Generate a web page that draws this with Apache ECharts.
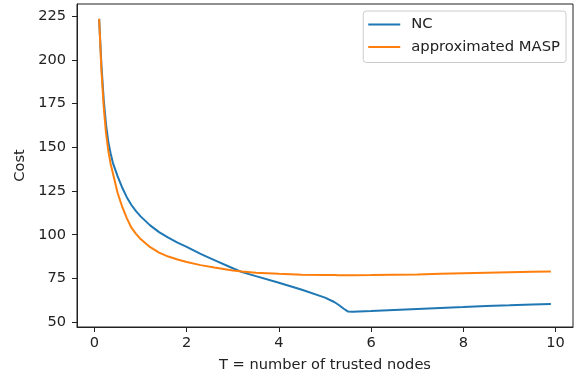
<!DOCTYPE html>
<html>
<head>
<meta charset="utf-8">
<script src="https://cdn.jsdelivr.net/npm/echarts@6/dist/echarts.min.js"></script>
<style>
html,body{margin:0;padding:0;background:#fff;}
#chart{width:584px;height:381px;}
</style>
</head>
<body>
<div id="chart"></div>
<script>
const xValues = [0.1,0.15,0.2,0.25,0.3,0.35,0.4,0.5,0.6,0.7,0.8,0.9,1.0,1.2,1.4,1.6,1.8,2.0,2.3,2.6,3.0,3.2,3.5,4.0,4.5,5.0,5.2,5.3,5.4,5.5,5.6,6.0,6.5,7.0,7.5,8.0,8.5,9.0,9.5,9.9];
const ncCost = [223.5,197,177,163,153,146.5,141,133.5,127,121.5,117,113.5,110.5,105.5,101.5,98.3,95.5,93,89,85.5,80.8,78.6,76.3,72.5,68.5,64,61.5,59.8,57.8,56,55.9,56.3,56.9,57.5,58.1,58.6,59.2,59.6,60.1,60.4];
const maspCost = [223.5,194,173,158,148,140.5,135,124,116,109.5,104,100.5,97.5,93,89.8,87.5,85.8,84.4,82.6,81.2,79.5,78.9,78.2,77.6,77.1,76.9,76.9,76.8,76.8,76.8,76.8,76.9,77.1,77.3,77.6,77.9,78.2,78.5,78.8,79.0];
const xTicks = [0,2,4,6,8,10];
const yTicks = [50,75,100,125,150,175,200,225];
const seriesNames = ['NC','approximated MASP'];

const font = 'DejaVu Sans';
const txt = '#222';
const fs = 14.6;
const chart = echarts.init(document.getElementById('chart'), null, {renderer:'canvas'});
chart.setOption({
  animation:false,
  backgroundColor:'#fff',
  grid:{left:77,right:11,top:4,bottom:54,show:true,borderColor:'#222',borderWidth:1,backgroundColor:'transparent'},
  legend:{
    orient:'vertical',right:18,top:11,
    data:seriesNames,
    icon:'rect',itemWidth:32,itemHeight:2,itemGap:7.5,
    padding:[6,6,8,5],
    borderColor:'#cccccc',borderWidth:1,borderRadius:3,
    backgroundColor:'rgba(255,255,255,0.8)',
    textStyle:{fontFamily:font,fontSize:14.8,color:txt,padding:[0,0,0,6]}
  },
  xAxis:{
    type:'value',min:-0.38,max:10.38,
    name:'T = number of trusted nodes',nameLocation:'middle',nameGap:31,
    nameTextStyle:{fontFamily:font,fontSize:fs,color:txt},
    axisLine:{show:true,onZero:false,lineStyle:{color:'#222',width:1}},
    splitLine:{show:false},
    axisTick:{show:true,inside:false,length:5,lineStyle:{color:'#222'},customValues:xTicks},
    axisLabel:{fontFamily:font,fontSize:fs,color:txt,margin:9,customValues:xTicks}
  },
  yAxis:{
    type:'value',min:47.2,max:232,
    name:'Cost',nameLocation:'middle',nameRotate:90,nameGap:48,
    nameTextStyle:{fontFamily:font,fontSize:fs,color:txt},
    axisLine:{show:true,onZero:false,lineStyle:{color:'#222',width:1}},
    splitLine:{show:false},
    axisTick:{show:true,inside:false,length:5,lineStyle:{color:'#222'},customValues:yTicks},
    axisLabel:{fontFamily:font,fontSize:fs,color:txt,margin:11,customValues:yTicks}
  },
  series:[
    {name:seriesNames[0],type:'line',showSymbol:false,symbol:'none',color:'#1f77b4',
     lineStyle:{width:2,color:'#1f77b4'},data:xValues.map((x,i)=>[x,ncCost[i]])},
    {name:seriesNames[1],type:'line',showSymbol:false,symbol:'none',color:'#ff7f0e',
     lineStyle:{width:2,color:'#ff7f0e'},data:xValues.map((x,i)=>[x,maspCost[i]])}
  ]
});
</script>
</body>
</html>
